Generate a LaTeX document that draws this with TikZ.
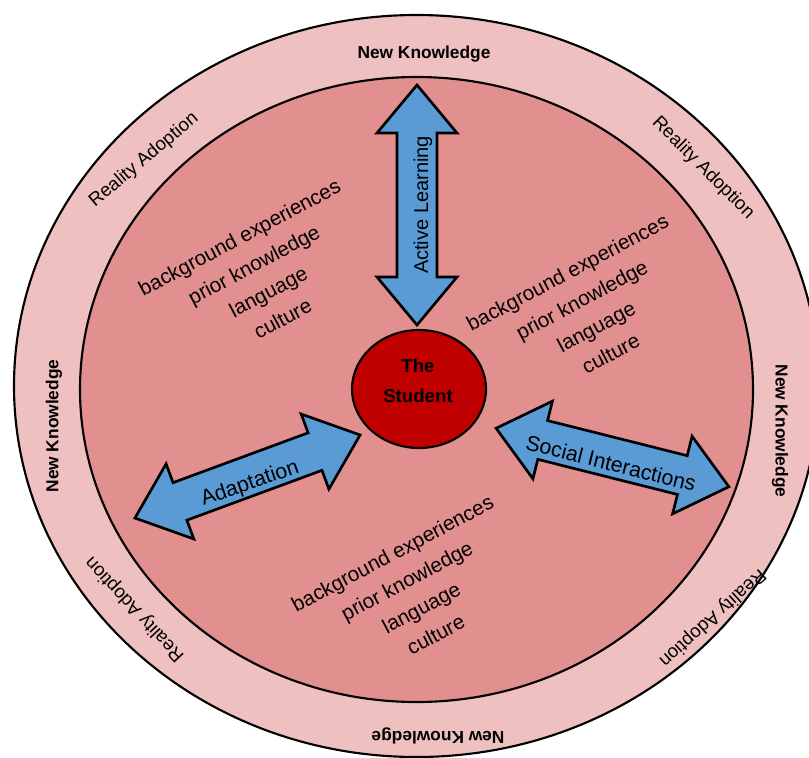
\documentclass[tikz,border=0pt]{standalone}
\usepackage{fontspec}
\setmainfont{Liberation Sans}
\usetikzlibrary{shapes.geometric}
\definecolor{ringpink}{RGB}{239,192,192}
\definecolor{innerpink}{RGB}{226,143,143}
\definecolor{studentred}{RGB}{192,0,0}
\definecolor{arrowblue}{RGB}{91,155,213}

\newcommand{\blockarrow}[2]{%
  \begin{scope}[shift={#1},rotate=#2]
    \draw[barrow] (-120,0) -- (-72,40) -- (-72,20) -- (72,20) -- (72,40) -- (120,0)
      -- (72,-40) -- (72,-20) -- (-72,-20) -- (-72,-40) -- cycle;
  \end{scope}}

\begin{document}
\begin{tikzpicture}[
        x=0.75pt, y=-0.75pt,
        ring/.style={draw=black,line width=1.6pt},
        nklbl/.style={font=\fontsize{13}{15}\selectfont\bfseries,inner sep=0pt},
        ralbl/.style={font=\fontsize{14}{16}\selectfont,inner sep=0pt},
        bgtext/.style={font=\fontsize{15.5}{23}\selectfont,align=center,rotate=28,inner sep=0pt},
        barrow/.style={draw=black,line width=2pt,fill=arrowblue,line join=miter},
        arrowlbl/.style={font=\fontsize{15}{17}\selectfont,inner sep=0pt},
        student/.style={ellipse,draw=black,line width=1.6pt,fill=studentred,minimum width=100.5pt,minimum height=88.5pt,inner sep=0pt},
        studentlbl/.style={font=\fontsize{14}{22.5}\selectfont\bfseries,align=center,inner sep=0pt}
        ]
        \useasboundingbox (0,0) rectangle (809,757);
        \clip (0,0) rectangle (809,757);

        \draw[ring,fill=ringpink] (416.5,386) ellipse [x radius=402.5, y radius=371];
        \draw[ring,fill=innerpink] (416.5,389.5) ellipse [x radius=336.5, y radius=312.5];

        \node[nklbl] (nkTop) at (424,54) {New Knowledge};
        \node[nklbl,rotate=-90] (nkRight) at (780,431) {New Knowledge};
        \node[nklbl,rotate=180] (nkBottom) at (438,736) {New Knowledge};
        \node[nklbl,rotate=90] (nkLeft) at (54,426) {New Knowledge};

        \node[ralbl,rotate=40] (raTL) at (144,160) {Reality Adoption};
        \node[ralbl,rotate=-45] (raTR) at (703,168) {Reality Adoption};
        \node[ralbl,rotate=133] (raBL) at (135,609) {Reality Adoption};
        \node[ralbl,rotate=222] (raBR) at (712,618) {Reality Adoption};

        \node[bgtext] (bgLeft) at (261,278) {background experiences\\prior knowledge\\language\\culture};
        \node[bgtext] (bgRight) at (589,313) {background experiences\\prior knowledge\\language\\culture};
        \node[bgtext] (bgBottom) at (414,594) {background experiences\\prior knowledge\\language\\culture};

        \blockarrow{(417,205)}{90}
        \blockarrow{(247.5,476.5)}{20.25}
        \blockarrow{(612.5,457.5)}{-14.1}

        \node[arrowlbl,rotate=90] (active) at (423,205) {Active Learning};
        \node[arrowlbl,rotate=19,font=\fontsize{16}{18}\selectfont] (adapt) at (250,484) {Adaptation};
        \node[arrowlbl,rotate=-14,font=\fontsize{16}{18}\selectfont] (social) at (611,463) {Social Interactions};

        \node[student] (student) at (419,389) {};
        \node[studentlbl] (studentText) at (418,381) {The\\Student};
    \end{tikzpicture}
\end{document}
